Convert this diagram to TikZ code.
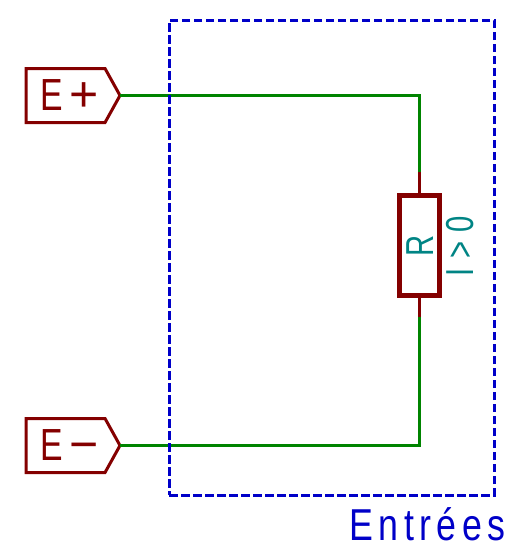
\documentclass[tikz,border=0pt]{standalone}
\usepackage{fontspec}
\setmainfont{Liberation Sans}
\usetikzlibrary{shapes.symbols}
\definecolor{pinred}{HTML}{840000}
\definecolor{wiregreen}{HTML}{008400}
\definecolor{framblue}{HTML}{0000C8}
\definecolor{labteal}{HTML}{008484}
\newfontfamily\narrowfont[FakeStretch=0.75]{Liberation Sans}
\newfontfamily\spacedfont[FakeStretch=0.75,LetterSpace=24]{Liberation Sans}
\newfontfamily\framefont[FakeStretch=0.8,LetterSpace=12]{Liberation Sans}
\newcommand{\portsign}[1]{{\fontsize{50}{50}\selectfont\raisebox{-1pt}{#1}}}
\tikzset{
  x=1pt,y=-1pt,
  port/.style={shape=signal,signal to=east,signal from=nowhere,signal pointer angle=122,
    draw=pinred,line width=3pt,text=pinred,minimum height=54pt,inner sep=0pt,outer sep=0pt,
    font=\fontsize{45}{45}\selectfont,text width=79pt,align=left,line join=miter},
  wire/.style={draw=wiregreen,line width=3pt},
  pin/.style={draw=pinred,line width=3pt},
  body/.style={draw=pinred,line width=5.5pt,minimum width=40pt,minimum height=100pt,inner sep=0pt,outer sep=0pt},
  val/.style={text=labteal,inner sep=0pt,rotate=90}
}
\begin{document}
\begin{tikzpicture}
\useasboundingbox (0,0) rectangle (526,557);
\node[port,anchor=east] (ep) at (120,95.5) {\hspace*{14pt}{\narrowfont E}\hspace{7pt}\portsign{+}};
\node[port,anchor=east] (em) at (120,445.5) {\hspace*{14pt}{\narrowfont E}\hspace{7pt}\portsign{−}};
\node[body] (r) at (419.5,245.5) {};
\node[val,font=\narrowfont\fontsize{39}{39}\selectfont] (rl) at (420,245.5) {R};
\node[val,font=\spacedfont\fontsize{39}{39}\selectfont] (il) at (460,246) {I>0};
\coordinate (ptop) at (419.5,172);
\coordinate (pbot) at (419.5,317);
\draw[wire] (ep.east) -| (ptop);
\draw[wire] (em.east) -| (pbot);
\draw[pin] (ptop) -- (r.north);
\draw[pin] (pbot) -- (r.south);
\node[draw=framblue,line width=3pt,dash pattern=on 8.5pt off 3.5pt,minimum width=325pt,minimum height=475pt,inner sep=0pt] (fr) at (331.5,257.5) {};
\node[text=framblue,inner sep=0pt,anchor=base,font=\framefont\fontsize{44.7}{45}\selectfont] (ent) at (427.5,540) {Entrées};
\end{tikzpicture}
\end{document}
